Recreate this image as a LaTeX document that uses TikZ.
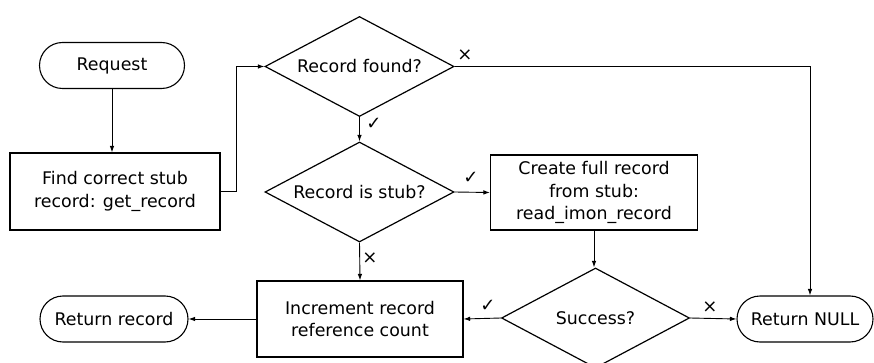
\documentclass[tikz,border=0pt]{standalone}
\usepackage{fontspec}
\setmainfont{DejaVu Sans}
\usetikzlibrary{shapes.geometric,shapes.misc,arrows.meta,calc}
\begin{document}
\begin{tikzpicture}[x=1pt,y=-1pt,
  every node/.style={font=\fontsize{17.4}{22.5}\selectfont, align=center, inner sep=0pt},
  terminal/.style={draw, line width=1.1pt, rounded rectangle, minimum height=46pt},
  process/.style={draw, line width=1.1pt, rectangle},
  decision/.style={draw, line width=1.2pt, diamond, aspect=1.88, minimum width=189pt, minimum height=100pt},
  flow/.style={line width=0.9pt, -{Latex[length=6.5pt,width=4.5pt]}},
  branchmark/.style={font=\fontsize{18}{18}\selectfont}]
\useasboundingbox (0,0) rectangle (874,363);

% nodes
\node[terminal, minimum width=145pt] (req) at (112,65.5) {Request};
\node[process, minimum width=210pt, minimum height=77pt] (find) at (115,191.5) {Find correct stub\\record: get\_record};
\node[decision] (found) at (359.5,66.5) {Record found?};
\node[decision] (stub) at (359.5,192) {Record is stub?};
\node[process, minimum width=207pt, minimum height=75pt] (create) at (594,192.5) {Create full record\\from stub:\\read\_imon\_record};
\node[decision, minimum width=188pt] (succ) at (595.5,318) {Success?};
\node[process, minimum width=206pt, minimum height=76pt] (inc) at (360,319) {Increment record\\reference count};
\node[terminal, minimum width=148pt] (ret) at (114,319) {Return record};
\node[terminal, minimum width=136pt] (nul) at (805,319) {Return NULL};

% connectors
\draw[flow] (req.south) -- (req.south |- find.north);
\draw[flow] (find.east) -- ++(16,0) |- (found.west);
\draw[flow] (found.east) -| ($(nul.north)+(5,0)$);
\draw[flow] (found.south) -- (stub.north);
\draw[flow] (stub.east) -- (create.west);
\draw[flow] (stub.south) -- (inc.north);
\draw[flow] (create.south) -- (create.south |- succ.north);
\draw[flow] (succ.west) -- (inc.east);
\draw[flow] (succ.east) -- (nul.west);
\draw[flow] (inc.west) -- (ret.east);

% branch marks
\node[branchmark] (m1) at (465,55) {×};
\node[branchmark] (m2) at (374,124) {✓};
\node[branchmark] (m3) at (471,178) {✓};
\node[branchmark] (m4) at (370,258) {×};
\node[branchmark] (m5) at (488,306) {✓};
\node[branchmark] (m6) at (710,307) {×};
\end{tikzpicture}
\end{document}
